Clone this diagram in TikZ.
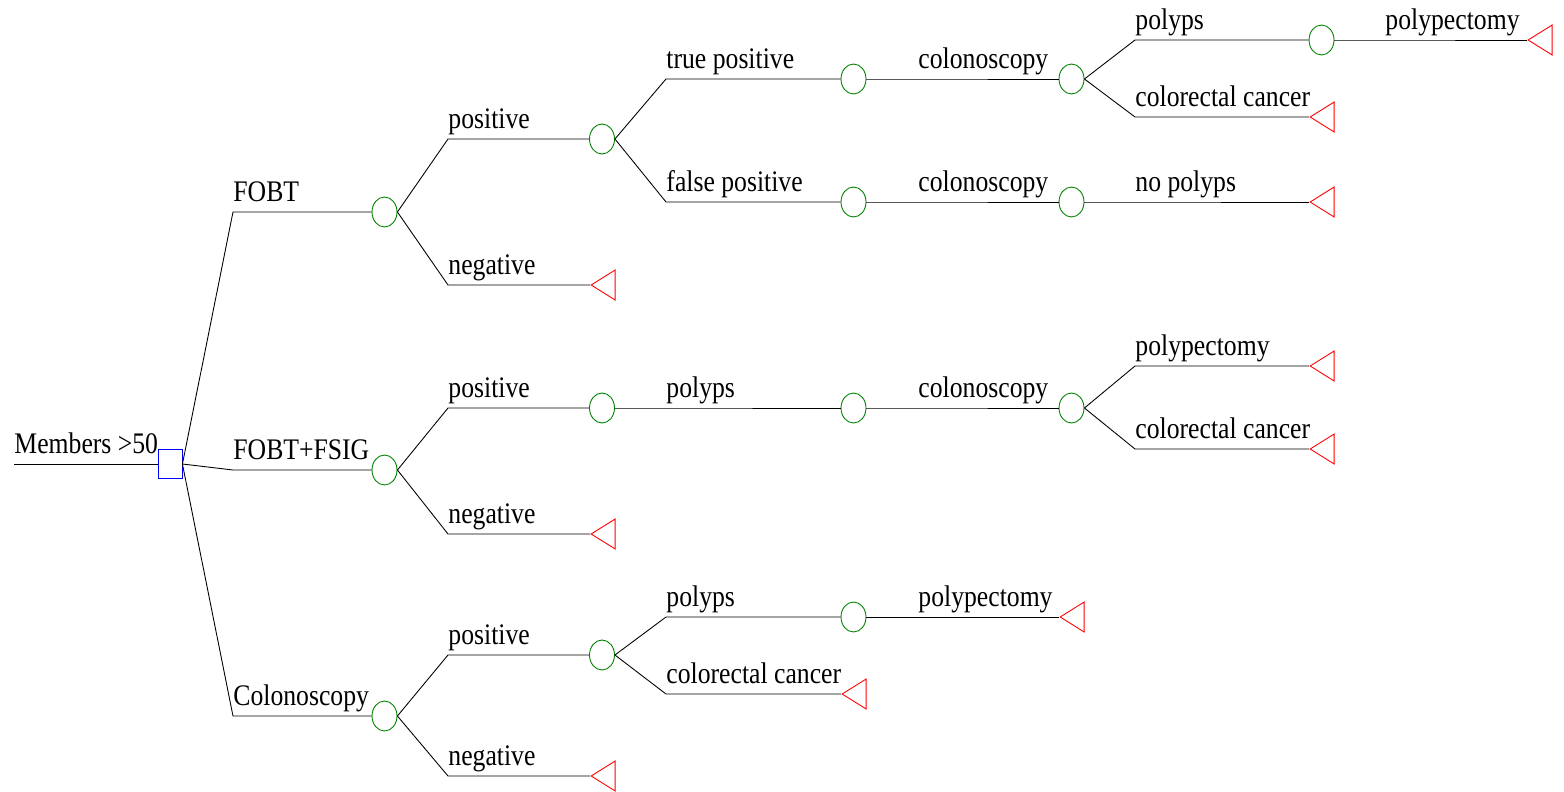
\documentclass[tikz,border=0pt]{standalone}
\usepackage{fontspec}
\setmainfont[FakeStretch=0.86]{Liberation Serif}
\usetikzlibrary{shapes.geometric}
\definecolor{chancegreen}{RGB}{0,128,0}

\begin{document}
\begin{tikzpicture}[x=0.02cm, y=-0.02cm, line width=0.5pt,
    decision/.style={draw=blue, rectangle, minimum width=0.48cm, minimum height=0.58cm, inner sep=0},
    chance/.style={draw=chancegreen, ellipse, minimum width=0.5cm, minimum height=0.6cm, inner sep=0},
    leaf/.style={draw=red, isosceles triangle, isosceles triangle stretches, shape border rotate=180,
      minimum width=0.6cm, minimum height=0.48cm, inner sep=0, anchor=apex},
    lbl/.style={anchor=base west, inner sep=0, yshift=0.21cm, font=\fontsize{17}{20}\selectfont}]
  \useasboundingbox (0,0) rectangle (1564,791);

  % decision node and root
  \coordinate (root) at (14,464);
  \node[decision] (d) at (170,464) {};
  \draw (root) -- node[lbl, pos=0] {Members >50} (d.west);

  % chance nodes
  \node[chance] (c1a) at (384.5,212) {};
  \node[chance] (c1b) at (384.5,470) {};
  \node[chance] (c1c) at (384.5,716) {};
  \node[chance] (c2a) at (602,139) {};
  \node[chance] (c2b) at (602,408) {};
  \node[chance] (c2c) at (602,655) {};
  \node[chance] (c3a) at (853.5,79) {};
  \node[chance] (c3b) at (853.5,202) {};
  \node[chance] (c3c) at (853.5,408) {};
  \node[chance] (c3d) at (853.5,617) {};
  \node[chance] (c4a) at (1071.5,79) {};
  \node[chance] (c4b) at (1071.5,202) {};
  \node[chance] (c4c) at (1071.5,408) {};
  \node[chance] (c5a) at (1321.5,40) {};

  % terminal nodes
  \node[leaf] (t2a) at (590,285) {};
  \node[leaf] (t2b) at (590,534) {};
  \node[leaf] (t2c) at (590,776) {};
  \node[leaf] (t3d) at (841,694) {};
  \node[leaf] (t4d) at (1059,617) {};
  \node[leaf] (t5a) at (1309,117) {};
  \node[leaf] (t5b) at (1309,202) {};
  \node[leaf] (t5c) at (1309,366) {};
  \node[leaf] (t5d) at (1309,449) {};
  \node[leaf] (t6a) at (1527,40) {};

  % branches: parent / break x / y / child / label
  \foreach \from/\bx/\y/\to/\txt in {
      d/233/212/c1a/FOBT, d/233/470/c1b/FOBT+FSIG, d/233/716/c1c/Colonoscopy,
      c1a/448/139/c2a/positive, c1a/448/285/t2a/negative,
      c1b/448/408/c2b/positive, c1b/448/534/t2b/negative,
      c1c/448/655/c2c/positive, c1c/448/776/t2c/negative,
      c2a/666/79/c3a/true positive, c2a/666/202/c3b/false positive,
      c2b/666/408/c3c/polyps,
      c2c/666/617/c3d/polyps, c2c/666/694/t3d/colorectal cancer,
      c3a/918/79/c4a/colonoscopy, c3b/918/202/c4b/colonoscopy,
      c3c/918/408/c4c/colonoscopy, c3d/918/617/t4d/polypectomy,
      c4a/1135/40/c5a/polyps, c4a/1135/117/t5a/colorectal cancer,
      c4b/1135/202/t5b/no polyps,
      c4c/1135/366/t5c/polypectomy, c4c/1135/449/t5d/colorectal cancer,
      c5a/1385/40/t6a/polypectomy}
    \draw (\from.east) -- (\bx,\y) -- node[lbl, pos=0] {\txt} (\to);
\end{tikzpicture}
\end{document}
